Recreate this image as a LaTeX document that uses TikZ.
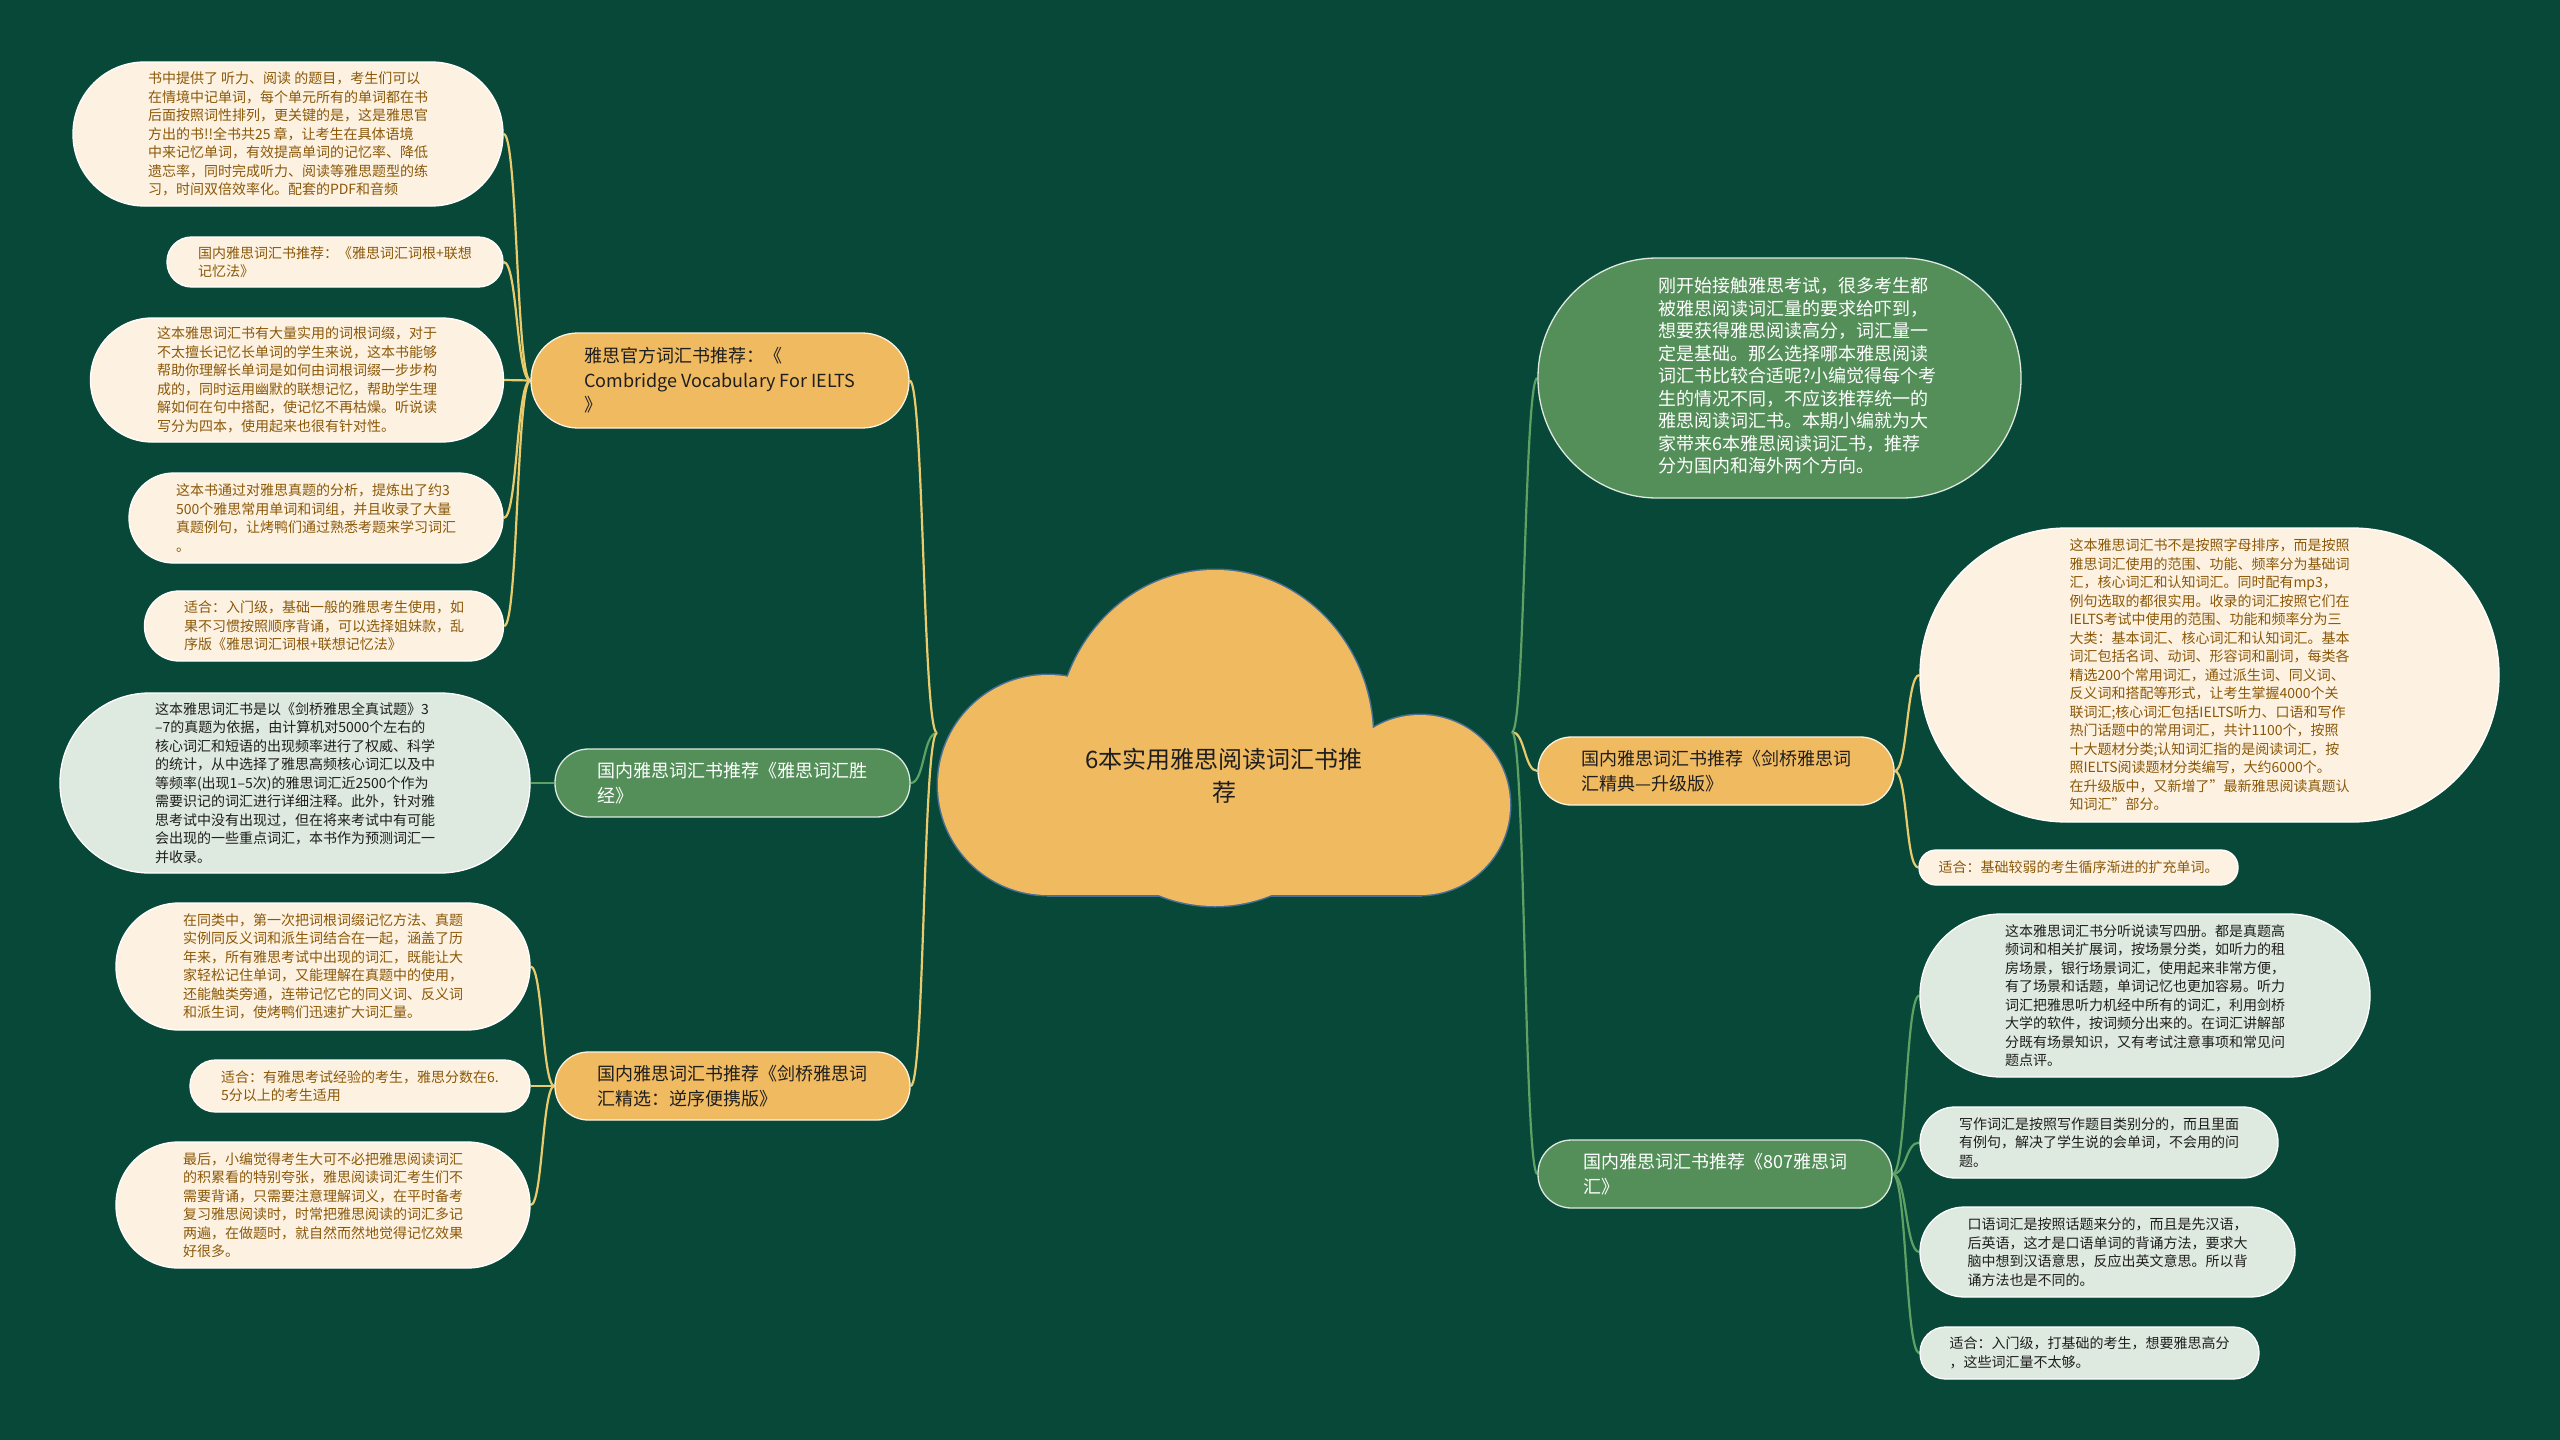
\documentclass[tikz,border=0pt]{standalone}
\usepackage{fontspec}
\setmainfont{Noto Sans CJK SC}
\definecolor{bgc}{RGB}{7,72,56}
\definecolor{orng}{RGB}{240,186,96}
\definecolor{grn}{RGB}{84,143,90}
\definecolor{cream}{RGB}{253,242,226}
\definecolor{pale}{RGB}{222,233,223}
\definecolor{brn}{RGB}{139,88,8}
\definecolor{lny}{RGB}{233,203,110}
\definecolor{lng}{RGB}{95,160,100}
\definecolor{cloudedge}{RGB}{72,112,150}
\definecolor{dk}{RGB}{30,30,30}
\pgfdeclarelayer{bg}
\pgfsetlayers{bg,main}
\tikzset{
  box/.style n args={3}{rectangle, minimum width=#1pt, minimum height=#2pt, rounded corners=#3pt, inner sep=0pt, align=left, line width=1.3pt},
  leafc/.style={fill=cream, draw=white, text=brn, font=\fontsize{14pt}{18.5pt}\selectfont},
  leafg/.style={fill=pale, draw=white, text=dk, font=\fontsize{14pt}{18.5pt}\selectfont},
  brancho/.style={fill=orng, draw=cream, text=dk, font=\fontsize{18pt}{24.5pt}\selectfont},
  branchg/.style={fill=grn, draw=pale, text=white, font=\fontsize{18pt}{24.5pt}\selectfont},
  linky/.style={draw=lny, line width=2.2pt},
  linkg/.style={draw=lng, line width=2.2pt},
}
\begin{document}
\begin{tikzpicture}[x=1pt,y=-1pt]
\useasboundingbox (0,0) rectangle (2560,1440);
\begin{pgfonlayer}{bg}
\fill[bgc] (0,0) rectangle (2560,1440);
\end{pgfonlayer}

% ---- cloud (root) ----
\draw[cloudedge, line width=3pt, fill=orng] (1048,785) circle[radius=110pt];
\draw[cloudedge, line width=3pt, fill=orng] (1215,738) ellipse[x radius=158pt, y radius=168pt];
\draw[cloudedge, line width=3pt, fill=orng] (1420,805) circle[radius=90pt];
\draw[cloudedge, line width=3pt, fill=orng] (1048,745) rectangle (1420,895);
\fill[orng] (1048,785) circle[radius=110pt];
\fill[orng] (1215,738) ellipse[x radius=158pt, y radius=168pt];
\fill[orng] (1420,805) circle[radius=90pt];
\fill[orng] (1048,745) rectangle (1420,895);
\node[align=center, text=dk, font=\fontsize{24pt}{33pt}\selectfont] (root) at (1224,776) {6本实用雅思阅读词汇书推\\荐};
\coordinate (cl) at (937,733);
\coordinate (cr) at (1512,732);

% ---- left: branch 1 ----
\node[box={378}{95}{47}, brancho] (b1) at (720,380.5) {雅思官方词汇书推荐：《\\Combridge Vocabulary For IELTS\\》};
\node[box={430}{144}{71.5}, leafc] (l1) at (288,134) {书中提供了 听力、阅读 的题目，考生们可以\\在情境中记单词，每个单元所有的单词都在书\\后面按照词性排列，更关键的是，这是雅思官\\方出的书!!全书共25 章，让考生在具体语境\\中来记忆单词，有效提高单词的记忆率、降低\\遗忘率，同时完成听力、阅读等雅思题型的练\\习，时间双倍效率化。配套的PDF和音频};
\node[box={336}{50}{24.5}, leafc] (l2) at (335,262) {国内雅思词汇书推荐：《雅思词汇词根+联想\\记忆法》};
\node[box={413}{124}{61.5}, leafc] (l3) at (297,380) {这本雅思词汇书有大量实用的词根词缀，对于\\不太擅长记忆长单词的学生来说，这本书能够\\帮助你理解长单词是如何由词根词缀一步步构\\成的，同时运用幽默的联想记忆，帮助学生理\\解如何在句中搭配，使记忆不再枯燥。听说读\\写分为四本，使用起来也很有针对性。};
\node[box={374}{90}{44.5}, leafc] (l4) at (316,518) {这本书通过对雅思真题的分析，提炼出了约3\\500个雅思常用单词和词组，并且收录了大量\\真题例句，让烤鸭们通过熟悉考题来学习词汇\\。};
\node[box={359}{70}{34.5}, leafc] (l5) at (324,626) {适合：入门级，基础一般的雅思考生使用，如\\果不习惯按照顺序背诵，可以选择姐妹款，乱\\序版《雅思词汇词根+联想记忆法》};

% ---- left: branch 2 ----
\node[box={355}{68}{33.5}, branchg] (b2) at (732.5,783) {国内雅思词汇书推荐《雅思词汇胜\\经》};
\node[box={470}{180}{89.5}, leafg] (l6) at (295,783) {这本雅思词汇书是以《剑桥雅思全真试题》3\\–7的真题为依据，由计算机对5000个左右的\\核心词汇和短语的出现频率进行了权威、科学\\的统计，从中选择了雅思高频核心词汇以及中\\等频率(出现1–5次)的雅思词汇近2500个作为\\需要识记的词汇进行详细注释。此外，针对雅\\思考试中没有出现过，但在将来考试中有可能\\会出现的一些重点词汇，本书作为预测词汇一\\并收录。};

% ---- left: branch 3 ----
\node[box={355}{68}{33.5}, brancho] (b3) at (732.5,1086) {国内雅思词汇书推荐《剑桥雅思词\\汇精选：逆序便携版》};
\node[box={414}{127}{63}, leafc] (l7) at (323,966.5) {在同类中，第一次把词根词缀记忆方法、真题\\实例同反义词和派生词结合在一起，涵盖了历\\年来，所有雅思考试中出现的词汇，既能让大\\家轻松记住单词，又能理解在真题中的使用，\\还能触类旁通，连带记忆它的同义词、反义词\\和派生词，使烤鸭们迅速扩大词汇量。};
\node[box={340}{52}{25.5}, leafc] (l8) at (360,1086) {适合：有雅思考试经验的考生，雅思分数在6.\\5分以上的考生适用};
\node[box={414}{126}{62.5}, leafc] (l9) at (323,1205) {最后，小编觉得考生大可不必把雅思阅读词汇\\的积累看的特别夸张，雅思阅读词汇考生们不\\需要背诵，只需要注意理解词义，在平时备考\\复习雅思阅读时，时常把雅思阅读的词汇多记\\两遍，在做题时，就自然而然地觉得记忆效果\\好很多。};

% ---- right: intro ----
\node[box={483}{240}{119.5}, fill=grn, draw=pale, text=white, font=\fontsize{18pt}{22.5pt}\selectfont] (intro) at (1779.5,378) {\begin{tabular}{@{\hspace{36pt}}l@{}}刚开始接触雅思考试，很多考生都\\被雅思阅读词汇量的要求给吓到，\\想要获得雅思阅读高分，词汇量一\\定是基础。那么选择哪本雅思阅读\\词汇书比较合适呢?小编觉得每个考\\生的情况不同，不应该推荐统一的\\雅思阅读词汇书。本期小编就为大\\家带来6本雅思阅读词汇书，推荐\\分为国内和海外两个方向。\end{tabular}};

% ---- right: branch R1 ----
\node[box={356}{68}{33.5}, brancho] (r1) at (1716,771) {国内雅思词汇书推荐《剑桥雅思词\\汇精典—升级版》};
\node[box={579}{294}{146.5}, leafc] (r1a) at (2209.5,675) {这本雅思词汇书不是按照字母排序，而是按照\\雅思词汇使用的范围、功能、频率分为基础词\\汇，核心词汇和认知词汇。同时配有mp3，\\例句选取的都很实用。收录的词汇按照它们在\\IELTS考试中使用的范围、功能和频率分为三\\大类：基本词汇、核心词汇和认知词汇。基本\\词汇包括名词、动词、形容词和副词，每类各\\精选200个常用词汇，通过派生词、同义词、\\反义词和搭配等形式，让考生掌握4000个关\\联词汇;核心词汇包括IELTS听力、口语和写作\\热门话题中的常用词汇，共计1100个，按照\\十大题材分类;认知词汇指的是阅读词汇，按\\照IELTS阅读题材分类编写，大约6000个。\\在升级版中，又新增了"最新雅思阅读真题认\\知词汇"部分。};
\node[box={319}{35}{17}, leafc] (r1b) at (2078.5,867.5) {适合：基础较弱的考生循序渐进的扩充单词。};

% ---- right: branch R2 ----
\node[box={354}{68}{33.5}, branchg] (r2) at (1715,1174) {国内雅思词汇书推荐《807雅思词\\汇》};
\node[box={450}{163}{81}, leafg] (r2a) at (2145,995.5) {这本雅思词汇书分听说读写四册。都是真题高\\频词和相关扩展词，按场景分类，如听力的租\\房场景，银行场景词汇，使用起来非常方便，\\有了场景和话题，单词记忆也更加容易。听力\\词汇把雅思听力机经中所有的词汇，利用剑桥\\大学的软件，按词频分出来的。在词汇讲解部\\分既有场景知识，又有考试注意事项和常见问\\题点评。};
\node[box={358}{71}{35}, leafg] (r2b) at (2099,1142.5) {写作词汇是按照写作题目类别分的，而且里面\\有例句，解决了学生说的会单词，不会用的问\\题。};
\node[box={375}{90}{44.5}, leafg] (r2c) at (2107.5,1252) {口语词汇是按照话题来分的，而且是先汉语，\\后英语，这才是口语单词的背诵方法，要求大\\脑中想到汉语意思，反应出英文意思。所以背\\诵方法也是不同的。};
\node[box={339}{52}{25.5}, leafg] (r2d) at (2089.5,1353) {适合：入门级，打基础的考生，想要雅思高分\\，这些词汇量不太够。};

% ---- connectors ----
\begin{pgfonlayer}{bg}
\draw[linky] (cl) .. controls +(-14,0) and +(14,0) .. (b1.east);
\draw[linkg] (cl) .. controls +(-14,0) and +(14,0) .. (b2.east);
\draw[linky] (cl) .. controls +(-14,0) and +(14,0) .. (b3.east);
\foreach \t in {l1,l2,l3,l4,l5}
  \draw[linky] (b1.west) .. controls +(-14,0) and +(14,0) .. (\t.east);
\draw[linkg] (b2.west) .. controls +(-12,0) and +(12,0) .. (l6.east);
\foreach \t in {l7,l8,l9}
  \draw[linky] (b3.west) .. controls +(-12,0) and +(12,0) .. (\t.east);
\draw[linkg] (cr) .. controls +(13,0) and +(-13,0) .. (intro.west);
\draw[linky] (cr) .. controls +(13,0) and +(-13,0) .. (r1.west);
\draw[linkg] (cr) .. controls +(13,0) and +(-13,0) .. (r2.west);
\foreach \t in {r1a,r1b}
  \draw[linky] (r1.east) .. controls +(13,0) and +(-13,0) .. (\t.west);
\foreach \t in {r2a,r2b,r2c,r2d}
  \draw[linkg] (r2.east) .. controls +(14,0) and +(-14,0) .. (\t.west);
\end{pgfonlayer}
\end{tikzpicture}
\end{document}
